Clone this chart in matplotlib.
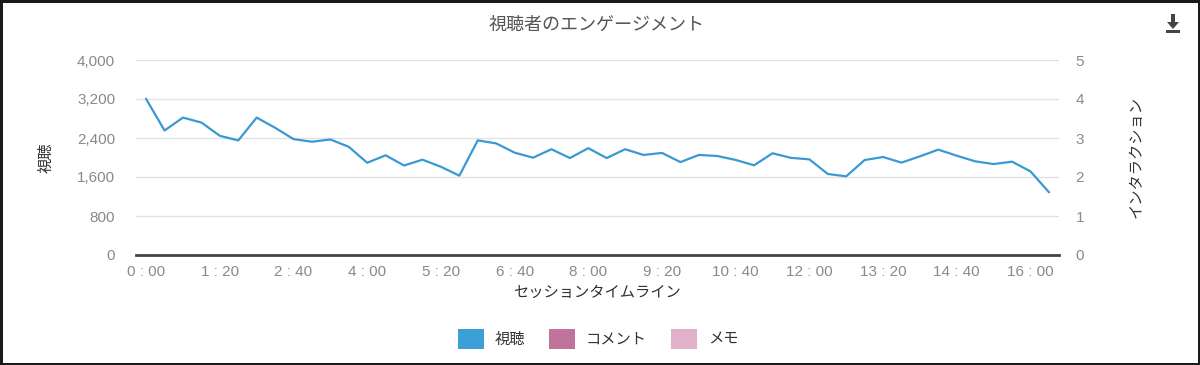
import matplotlib
matplotlib.use('Agg')
import matplotlib.pyplot as plt
from matplotlib.patches import Patch, Polygon, Rectangle

plt.rcParams['font.family'] = ['Noto Sans CJK JP', 'DejaVu Sans']

# session time in minutes, one sample every 20 minutes
minutes = list(range(0, 1000, 20))
views = [3200, 2554, 2819, 2717, 2445, 2350, 2819, 2610, 2377, 2323,
         2370, 2219, 1892, 2045, 1836, 1955, 1810, 1627, 2351, 2289,
         2100, 1996, 2170, 1989, 2191, 1989, 2170, 2052, 2094, 1906,
         2052, 2031, 1950, 1840, 2087, 1993, 1962, 1662, 1614, 1948,
         2010, 1895, 2024, 2161, 2037, 1921, 1866, 1914, 1716, 1290]

xtick_minutes = list(range(0, 1000, 80))
xtick_labels = ["%d : %02d" % (m // 60, m % 60) for m in xtick_minutes]
left_ticks = [0, 800, 1600, 2400, 3200, 4000]
right_ticks = [0, 1, 2, 3, 4, 5]

series_names = ["視聴", "コメント", "メモ"]
series_colors = ["#3d9fd7", "#c0739b", "#e1b1c9"]

num_font = ['Liberation Sans', 'Noto Sans CJK JP']

W, H = 1200, 365
fig = plt.figure(figsize=(12, 3.65), dpi=100)
fig.patch.set_facecolor('white')
fig.patch.set_edgecolor('#1a1a1a')
fig.patch.set_linewidth(2.2)

ax = fig.add_axes([136 / W, 1 - 255 / H, (1059 - 136) / W, (255 - 60) / H])
ax.plot(minutes, views, color="#3a99d2", linewidth=1.6, zorder=3)
ax.set_xlim(-11, 991)
ax.set_ylim(0, 4000)
ax.set_yticks(left_ticks)
ax.set_yticklabels(["{:,}".format(v) for v in left_ticks], family=num_font)
ax.set_xticks(xtick_minutes)
ax.set_xticklabels(xtick_labels, family=num_font)
ax.grid(axis='y', color='#e3e3e3', linewidth=1.0)
ax.set_axisbelow(True)
for s in ['top', 'right', 'left']:
  ax.spines[s].set_visible(False)
ax.spines['bottom'].set_color('#444444')
ax.spines['bottom'].set_linewidth(2.0)
ax.spines['bottom'].set_zorder(4)
ax.tick_params(axis='both', length=0, labelsize=11, labelcolor='#8a8a8a')
ax.tick_params(axis='y', pad=15)
ax.tick_params(axis='x', pad=7)
ax.set_xlabel("セッションタイムライン", fontsize=11, color='#333333', labelpad=4)
ax.set_ylabel("視聴", fontsize=11, color='#333333', labelpad=16)

ax2 = ax.twinx()
ax2.set_ylim(0, 5)
ax2.set_yticks(right_ticks)
ax2.set_yticklabels([str(v) for v in right_ticks], family=num_font)
for s in ['top', 'right', 'left', 'bottom']:
  ax2.spines[s].set_visible(False)
ax2.tick_params(axis='y', length=0, labelsize=11, labelcolor='#8a8a8a', pad=12)
ax2.set_ylabel("インタラクション", fontsize=11, color='#333333', rotation=90, labelpad=31)

fig.text(597 / W, 1 - 25 / H, "視聴者のエンゲージメント", ha='center', va='center',
         fontsize=13, color='#555555')

handles = [Patch(facecolor=c, edgecolor='none') for c in series_colors]
fig.legend(handles, series_names, loc='center', bbox_to_anchor=(598 / W, 1 - 339 / H),
           ncol=3, frameon=False, fontsize=11, handlelength=1.7, handleheight=1.7,
           handletextpad=0.7, columnspacing=1.6, labelcolor='#333333')

# download icon, top right
def px(x, y):
  return (x / W, 1 - y / H)

cx = 1173
fig.add_artist(Rectangle(px(cx - 2, 23), 4 / W, 9 / H, transform=fig.transFigure,
                         facecolor='#444444', edgecolor='none'))
fig.add_artist(Polygon([px(cx - 6, 22), px(cx + 6, 22), px(cx, 29)], closed=True,
                       transform=fig.transFigure, facecolor='#444444', edgecolor='none'))
fig.add_artist(Rectangle(px(cx - 7, 33), 14 / W, 2.5 / H, transform=fig.transFigure,
                         facecolor='#444444', edgecolor='none'))

plt.savefig('out.png', dpi=100, facecolor=fig.get_facecolor(), edgecolor=fig.get_edgecolor())
